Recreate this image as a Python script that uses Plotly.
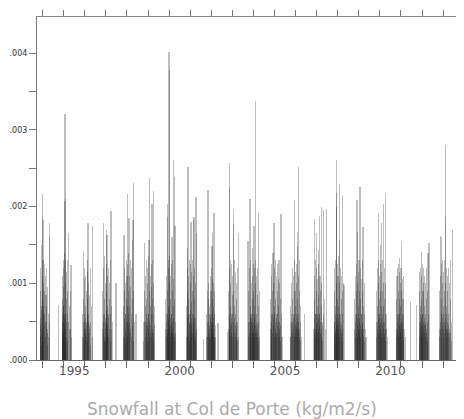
import plotly.graph_objects as go

# Snowfall spikes per winter season: day offset from 1 Jan of the season's year,
# and value in units of 1e-3 kg/m2/s
UNIT = 1e-3
season_years = [1994, 1995, 1996, 1997, 1998, 1999, 2000, 2001, 2002, 2003,
                2004, 2005, 2006, 2007, 2008, 2009, 2010, 2011, 2012, 2013]

days_1994 = [-45,-38,-30,-24,-17,-10,-7,-3,0,5,12,18,22,28,35,42,50,57,65,72,80,88,96,105,114,120,126]
vals_1994 = [0.45,0.9,1.2,0.7,1.5,1.1,1.85,0.8,2.16,1.3,0.6,1.0,1.83,0.9,1.25,0.5,1.1,0.85,0.7,1.2,0.4,0.95,0.6,0.3,1.78,0.5,1.6]
days_1994 += [-40,-33,-27,-20,-13,-5,2,9,15,25,33,46,62,78,90]
vals_1994 += [0.3,0.55,0.2,0.65,0.4,0.5,0.35,0.7,0.25,0.45,0.6,0.3,0.5,0.35,0.2]

days_1995 = [-95,-30,-24,-18,-12,-6,-2,3,8,12,17,21,26,31,38,44,50,57,64,72,80,90,98,108,118,125,135]
vals_1995 = [0.72,0.5,0.8,1.1,0.7,1.3,0.95,1.2,0.6,2.07,1.4,3.2,1.0,1.3,2.1,0.8,1.15,0.6,0.9,1.3,0.5,1.66,0.7,0.4,0.9,1.24,0.3]
days_1995 += [-25,-20,-15,-9,-4,1,6,10,15,24,29,35,47,55,68]
vals_1995 += [0.4,0.25,0.6,0.35,0.5,0.7,0.3,0.45,0.55,0.2,0.6,0.4,0.3,0.5,0.25]

days_1996 = [-45,-38,-31,-25,-18,-10,-4,2,9,15,22,30,38,45,50,55,62,70,78,88,96,105,115,125,132]
vals_1996 = [0.3,0.6,1.42,0.5,0.8,1.05,0.4,1.2,0.7,1.1,0.9,0.5,1.15,0.8,1.3,1.78,0.6,1.0,0.45,0.85,1.2,0.5,0.7,1.74,0.3]
days_1996 += [-20,-14,-7,0,5,12,19,26,34,42,48,58,66,82,100]
vals_1996 += [0.3,0.5,0.25,0.6,0.4,0.35,0.55,0.3,0.45,0.6,0.25,0.5,0.35,0.4,0.2]

days_1997 = [-65,-58,-50,-44,-36,-28,-20,-12,-5,2,8,14,19,25,32,40,48,56,64,72,80,88,95,102,110,175]
vals_1997 = [0.4,0.9,1.79,0.6,1.2,0.8,1.35,0.5,1.0,1.7,0.9,1.25,1.63,0.7,1.1,0.55,1.2,0.8,1.0,0.6,1.3,1.94,0.7,0.4,0.5,1.0]
days_1997 += [-45,-40,-32,-24,-16,-8,-2,5,11,16,22,29,36,52,68,80]
vals_1997 += [0.35,0.5,0.3,0.6,0.25,0.55,0.4,0.65,0.3,0.5,0.45,0.35,0.6,0.3,0.4,0.25]

days_1998 = [-66,-60,-52,-45,-38,-30,-22,-15,-8,0,6,12,17,24,30,35,42,50,58,66,75,84,92,98,104,112,121,130,156]
vals_1998 = [0.3,0.7,1.63,0.9,1.2,0.6,1.0,1.3,0.8,1.1,0.5,1.25,2.16,0.9,1.4,1.85,0.7,1.1,0.95,1.3,0.6,1.2,0.8,1.55,1.83,0.9,2.31,0.5,0.6]
days_1998 += [-50,-42,-34,-26,-18,-11,-4,3,9,20,27,38,46,62,80,95,110]
vals_1998 += [0.3,0.55,0.4,0.25,0.6,0.35,0.5,0.7,0.3,0.45,0.6,0.35,0.5,0.4,0.3,0.45,0.25]

days_1999 = [-85,-70,-62,-54,-46,-38,-30,-22,-14,-6,2,9,16,24,33,40,48,56,62,68,75,82,90,96,102,110,118]
vals_1999 = [0.25,0.5,0.9,1.53,0.7,1.1,1.3,0.8,1.0,1.2,0.6,1.35,1.57,0.9,2.37,1.1,0.7,1.25,0.95,2.03,0.8,1.3,0.6,1.0,2.2,0.7,0.45]
days_1999 += [-50,-42,-34,-26,-18,-10,-2,5,12,20,28,36,44,52,60,72,86,100]
vals_1999 += [0.3,0.5,0.6,0.35,0.45,0.25,0.55,0.4,0.6,0.3,0.5,0.35,0.45,0.6,0.3,0.4,0.35,0.25]

days_2000 = [-68,-60,-52,-44,-36,-30,-24,-18,-12,-6,-2,2,8,14,20,28,36,44,50,56,62,68,74,80,85,92,102,110,118]
vals_2000 = [0.4,0.8,1.1,0.6,2.03,1.87,0.9,1.3,0.7,1.2,4.02,3.78,1.0,1.35,0.8,1.1,0.6,1.25,1.6,0.9,1.3,2.6,0.7,1.05,2.38,0.8,1.74,0.5,0.35]
days_2000 += [-50,-40,-33,-27,-21,-15,-9,-4,5,11,17,24,32,40,47,53,59,65,71,77,88,98]
vals_2000 += [0.3,0.5,0.4,0.6,0.35,0.55,0.25,0.5,0.65,0.4,0.3,0.55,0.45,0.35,0.6,0.3,0.5,0.4,0.55,0.35,0.3,0.25]

days_2001 = [-70,-62,-55,-48,-42,-38,-30,-22,-15,-8,0,7,14,20,27,34,41,49,56,62,66,72,80,88,94,100,104,112]
vals_2001 = [0.3,0.7,1.46,0.9,1.2,2.51,0.8,1.1,1.3,0.6,1.0,1.25,1.8,0.75,1.15,0.9,1.3,1.83,0.6,1.1,1.87,0.8,1.2,0.55,1.0,2.12,1.66,0.4]
days_2001 += [-55,-45,-35,-26,-18,-11,-4,3,10,17,24,30,38,45,52,59,69,76,84,91]
vals_2001 += [0.35,0.55,0.3,0.6,0.45,0.25,0.5,0.65,0.35,0.55,0.3,0.45,0.6,0.35,0.5,0.4,0.3,0.55,0.35,0.25]

days_2002 = [-127,-88,-80,-72,-64,-57,-50,-42,-35,-28,-20,-12,-5,2,8,12,18,24,29,36,42,47,54,62,70,78,116]
vals_2002 = [0.27,0.3,0.6,0.9,0.5,2.22,0.8,1.0,0.4,0.7,1.1,0.6,0.9,0.5,1.2,1.48,0.8,1.05,1.66,0.7,1.0,1.92,0.6,0.9,0.45,0.3,0.48]
days_2002 += [-60,-53,-46,-38,-31,-24,-16,-8,-1,5,15,21,27,33,39,45,51,58]
vals_2002 += [0.3,0.5,0.35,0.6,0.3,0.45,0.55,0.3,0.5,0.4,0.6,0.35,0.45,0.3,0.55,0.4,0.3,0.25]

days_2003 = [-92,-72,-64,-57,-54,-48,-40,-32,-25,-18,-10,-3,4,12,21,28,36,44,52,60,68,76,84,92,99,106]
vals_2003 = [0.36,0.4,0.9,2.57,2.26,1.2,0.7,1.3,1.0,0.6,1.25,0.85,1.1,1.97,1.77,0.9,1.3,0.7,1.15,0.6,1.0,0.8,1.2,0.5,1.66,0.3]
days_2003 += [-55,-50,-44,-36,-28,-21,-14,-7,0,8,16,25,32,40,48,56,64,72,80,88]
vals_2003 += [0.35,0.6,0.4,0.5,0.3,0.55,0.45,0.35,0.6,0.3,0.5,0.4,0.55,0.35,0.45,0.3,0.5,0.4,0.3,0.25]

days_2004 = [-94,-86,-78,-70,-59,-52,-45,-38,-31,-24,-17,-10,-3,4,10,16,22,28,34,42,50,58,66,74,80,88,96,104,112]
vals_2004 = [1.55,0.5,0.9,1.2,2.1,0.7,1.3,1.0,0.6,1.46,1.1,0.8,1.25,0.9,1.74,0.7,1.2,3.37,1.0,1.3,0.6,1.1,0.85,1.2,1.91,0.7,0.5,0.9,0.3]
days_2004 += [-80,-74,-66,-56,-49,-42,-35,-28,-20,-14,-7,0,7,13,19,25,31,38,46,54,62,70,78,86]
vals_2004 += [0.3,0.5,0.35,0.6,0.4,0.55,0.3,0.5,0.45,0.6,0.35,0.5,0.4,0.55,0.3,0.6,0.45,0.35,0.5,0.4,0.3,0.45,0.35,0.25]

days_2005 = [-76,-68,-60,-52,-44,-36,-26,-18,-9,-2,6,14,22,30,38,46,54,62,70,78,86,94,102,113,122,130]
vals_2005 = [0.4,0.8,1.1,0.6,1.25,0.9,1.4,1.0,1.79,0.7,1.2,1.3,0.8,1.1,0.6,1.25,0.9,1.05,0.7,1.3,0.5,1.0,0.8,1.9,0.6,0.3]
days_2005 += [-60,-55,-48,-40,-31,-22,-13,-5,2,10,18,26,34,42,50,58,66,74,82,90,98,108]
vals_2005 += [0.3,0.5,0.4,0.6,0.35,0.55,0.45,0.3,0.6,0.4,0.5,0.35,0.55,0.3,0.45,0.6,0.35,0.5,0.4,0.3,0.45,0.25]

days_2006 = [-92,-84,-76,-68,-60,-52,-44,-36,-26,-18,-10,-3,4,12,18,26,30,36,43,50,58,66,74,82,90,98,147]
vals_2006 = [0.3,0.7,1.0,0.5,1.2,0.8,1.1,0.6,2.08,1.3,0.9,1.15,0.7,1.25,1.0,1.48,1.67,0.8,2.51,1.1,0.6,1.3,0.9,0.5,0.7,0.3,0.6]
days_2006 += [-80,-72,-64,-56,-48,-40,-31,-22,-14,-7,0,8,15,22,28,33,40,47,54,62,70,78]
vals_2006 += [0.3,0.45,0.6,0.35,0.5,0.4,0.55,0.3,0.6,0.45,0.35,0.5,0.4,0.6,0.3,0.55,0.45,0.35,0.5,0.4,0.3,0.25]

days_2007 = [-50,-45,-38,-30,-22,-15,-10,-4,3,10,17,24,30,36,42,50,58,66,76,84,92,100,111,125,140,155,163]
vals_2007 = [0.4,1.84,0.8,1.1,0.6,1.3,1.66,0.9,1.2,0.7,1.05,1.44,0.85,1.25,1.88,0.6,1.1,0.9,1.99,0.7,1.0,0.5,1.96,0.6,0.8,0.4,1.97]
days_2007 += [-40,-34,-26,-18,-12,-7,0,6,13,20,27,33,39,46,54,62,70,80,88,96,106]
vals_2007 += [0.35,0.55,0.4,0.6,0.3,0.5,0.45,0.6,0.35,0.5,0.4,0.55,0.3,0.45,0.6,0.35,0.5,0.4,0.3,0.45,0.25]

days_2008 = [-62,-55,-48,-40,-34,-29,-24,-20,-14,-8,-2,5,12,18,23,31,38,46,54,62,68,75,82,90,98,109]
vals_2008 = [0.5,0.9,1.2,0.7,1.3,2.6,2.18,1.99,1.0,1.25,0.8,1.1,1.35,0.7,2.29,1.57,1.0,1.2,0.6,1.1,0.8,2.14,0.9,0.6,1.0,0.98]
days_2008 += [-55,-51,-44,-37,-31,-26,-22,-17,-11,-5,1,8,15,20,27,34,42,50,58,65,72,79,86]
vals_2008 += [0.3,0.5,0.4,0.6,0.35,0.55,0.45,0.3,0.6,0.4,0.5,0.35,0.55,0.45,0.3,0.6,0.4,0.5,0.35,0.45,0.3,0.4,0.25]

days_2009 = [-80,-72,-64,-56,-48,-40,-31,-28,-20,-12,-5,2,9,15,21,28,36,44,52,60,66,73,82,92,102,114,125]
vals_2009 = [0.4,0.8,1.1,0.6,1.25,0.9,2.08,1.67,1.0,1.3,0.7,1.15,0.9,1.3,2.26,0.8,1.2,0.6,1.05,0.9,1.3,1.73,0.7,1.0,0.6,0.4,0.3]
days_2009 += [-60,-52,-44,-36,-30,-24,-16,-9,-2,5,12,18,24,32,40,48,56,63,70,78,88,98]
vals_2009 += [0.3,0.5,0.6,0.35,0.45,0.55,0.3,0.6,0.4,0.5,0.35,0.55,0.45,0.3,0.6,0.4,0.5,0.35,0.45,0.3,0.4,0.25]

days_2010 = [-64,-56,-48,-40,-31,-24,-16,-8,-2,3,10,16,21,28,35,42,48,55,62,70,78,84,90,98,106,116,125]
vals_2010 = [0.5,0.9,1.2,0.7,1.91,1.0,1.3,0.8,1.1,1.5,0.9,1.25,1.79,0.7,1.15,1.3,0.9,2.03,1.0,0.7,1.2,0.8,2.18,1.0,0.6,0.4,0.3]
days_2010 += [-55,-44,-36,-28,-20,-12,-5,0,6,13,18,24,31,38,45,51,58,66,74,81,87,94,102]
vals_2010 += [0.3,0.5,0.4,0.6,0.35,0.55,0.45,0.6,0.3,0.5,0.4,0.55,0.35,0.6,0.45,0.3,0.5,0.4,0.35,0.5,0.3,0.4,0.25]

days_2011 = [-85,-76,-68,-60,-52,-44,-38,-33,-26,-20,-14,-8,-2,2,8,14,20,28,36,44,52,60,71,158,262]
vals_2011 = [0.4,0.8,1.1,0.6,1.2,0.9,1.25,1.33,0.8,1.15,0.7,1.2,1.0,1.55,0.9,1.2,0.6,1.05,0.8,1.1,0.6,0.4,0.3,0.75,0.72]
days_2011 += [-70,-64,-56,-48,-41,-35,-29,-23,-17,-11,-5,0,5,11,17,24,32,40,48]
vals_2011 += [0.3,0.5,0.4,0.6,0.35,0.55,0.45,0.3,0.6,0.4,0.5,0.35,0.55,0.45,0.3,0.5,0.4,0.3,0.25]

days_2012 = [-50,-44,-38,-30,-24,-17,-10,-4,3,10,17,24,32,40,48,56,64,72,80,88,96,104,112,121]
vals_2012 = [0.5,0.9,1.15,0.7,1.2,1.41,0.8,1.1,0.6,1.25,0.9,1.0,1.2,0.7,1.1,0.6,1.0,0.8,1.2,0.5,0.9,1.39,0.6,1.53]
days_2012 += [-40,-34,-27,-20,-14,-7,0,6,13,20,28,36,44,52,60,68,76,84,92,100]
vals_2012 += [0.3,0.5,0.4,0.6,0.35,0.55,0.45,0.3,0.6,0.4,0.5,0.35,0.55,0.45,0.3,0.5,0.4,0.35,0.3,0.25]

days_2013 = [-69,-60,-52,-45,-35,-28,-20,-12,-5,2,10,18,26,35,40,48,56,64,72,80,90,100,110,121,135,146,156]
vals_2013 = [0.4,0.9,1.62,1.1,1.6,0.8,1.25,1.0,1.3,0.7,1.15,0.9,1.3,2.8,1.86,1.0,1.2,0.7,1.1,0.9,1.2,0.6,1.0,1.3,0.8,0.5,1.69]
days_2013 += [-55,-48,-40,-31,-24,-16,-8,-1,6,14,22,30,38,44,52,60,68,76,85,95,105,115,128,140]
vals_2013 += [0.3,0.5,0.4,0.6,0.35,0.55,0.45,0.3,0.6,0.4,0.5,0.35,0.55,0.45,0.3,0.6,0.4,0.5,0.35,0.45,0.3,0.4,0.35,0.25]

year_tick_labels = ["1995", "2000", "2005", "2010"]
y_tick_values = [0, 0.0005, 0.001, 0.0015, 0.002, 0.0025, 0.003, 0.0035, 0.004]
y_tick_text = [".000", "", ".001", "", ".002", "", ".003", "", ".004"]

season_days = [days_1994, days_1995, days_1996, days_1997, days_1998, days_1999, days_2000,
               days_2001, days_2002, days_2003, days_2004, days_2005, days_2006, days_2007,
               days_2008, days_2009, days_2010, days_2011, days_2012, days_2013]
season_vals = [vals_1994, vals_1995, vals_1996, vals_1997, vals_1998, vals_1999, vals_2000,
               vals_2001, vals_2002, vals_2003, vals_2004, vals_2005, vals_2006, vals_2007,
               vals_2008, vals_2009, vals_2010, vals_2011, vals_2012, vals_2013]

xs, ys = [], []
for yr, dd, vv in zip(season_years, season_days, season_vals):
    for d, v in zip(dd, vv):
        xs.append(yr + d / 365.25)
        ys.append(v * UNIT)

XR = [1993.73, 2013.85]
YR = [0, 0.00447]

fig = go.Figure()
fig.add_trace(go.Bar(x=xs, y=ys, width=0.05,
                     marker=dict(color="rgba(20,20,20,0.28)", line=dict(width=0)),
                     showlegend=False, hoverinfo="skip"))
# dummy trace for top/right axes
fig.add_trace(go.Scatter(x=[XR[0]], y=[0], xaxis="x2", yaxis="y2", mode="markers",
                         marker=dict(opacity=0), showlegend=False, hoverinfo="skip"))

# the page body adds an 8px offset, so the figure is sized/margined to compensate
lbl_font = dict(family="DejaVu Sans", size=12, color="#555")
fig.update_layout(
    width=456, height=411,
    margin=dict(l=29, r=3, t=9, b=59),
    paper_bgcolor="white", plot_bgcolor="white",
    barmode="overlay", bargap=0,
    xaxis=dict(range=XR, showgrid=False, zeroline=False, showline=True, automargin=False,
               linecolor="#666", linewidth=1,
               tickvals=[int(t) + 0.5 for t in year_tick_labels], ticktext=year_tick_labels,
               ticks="", tickfont=lbl_font,
               minor=dict(ticks="outside", tick0=1994, dtick=1, ticklen=7,
                          tickcolor="#666", tickwidth=1, showgrid=False)),
    xaxis2=dict(range=XR, overlaying="x", side="top", anchor="y", showgrid=False,
                automargin=False,
                zeroline=False, showline=True, linecolor="#888", linewidth=1,
                tickvals=list(range(1994, 2014)), ticks="outside", ticklen=6,
                tickcolor="#777", showticklabels=False),
    yaxis=dict(range=YR, showgrid=False, zeroline=False, showline=True, automargin=False,
               linecolor="#777", linewidth=1,
               tickvals=y_tick_values, ticktext=y_tick_text, ticks="outside",
               ticklen=7, tickcolor="#777",
               tickfont=dict(family="DejaVu Sans", size=8, color="#333")),
    yaxis2=dict(range=YR, overlaying="y", side="right", anchor="x", showgrid=False,
                automargin=False,
                zeroline=False, showline=True, linecolor="#aaa", linewidth=2,
                tickvals=y_tick_values, ticks="inside", ticklen=3, tickcolor="#999",
                showticklabels=False),
    annotations=[dict(text="Snowfall at Col de Porte (kg/m2/s)", xref="paper", yref="paper",
                      x=(224 - 29) / 424, y=0, yanchor="middle", xanchor="center",
                      yshift=-49, showarrow=False,
                      font=dict(family="DejaVu Sans", size=17, color="#aaa"))],
)

fig.write_html("out.html")
